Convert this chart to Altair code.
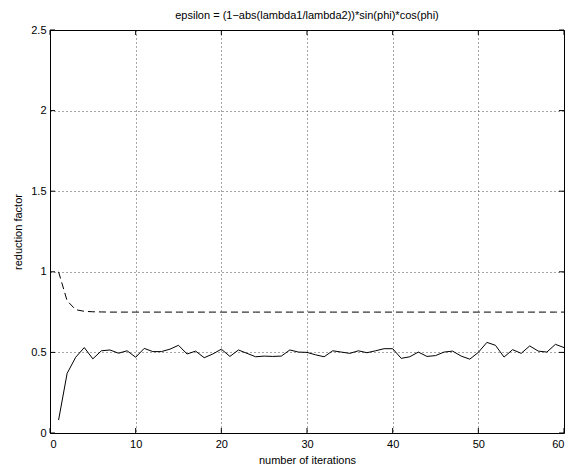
import altair as alt
import pandas as pd

iterations = list(range(1, 61))
solid_values = [0.08, 0.37, 0.47, 0.53, 0.46, 0.51, 0.515, 0.495, 0.51, 0.47,
                0.525, 0.505, 0.505, 0.52, 0.544, 0.49, 0.508, 0.467, 0.49, 0.52,
                0.475, 0.515, 0.494, 0.473, 0.477, 0.475, 0.477, 0.515, 0.502, 0.5,
                0.485, 0.473, 0.51, 0.502, 0.494, 0.51, 0.498, 0.51, 0.523, 0.523,
                0.463, 0.473, 0.502, 0.475, 0.48, 0.502, 0.508, 0.477, 0.458, 0.5,
                0.562, 0.544, 0.471, 0.517, 0.494, 0.54, 0.508, 0.502, 0.55, 0.53]
dashed_values = [1.0, 0.82, 0.765, 0.755, 0.752, 0.751, 0.75, 0.75, 0.75, 0.75,
                 0.75, 0.75, 0.75, 0.75, 0.75, 0.75, 0.75, 0.75, 0.75, 0.75,
                 0.75, 0.75, 0.75, 0.75, 0.75, 0.75, 0.75, 0.75, 0.75, 0.75,
                 0.75, 0.75, 0.75, 0.75, 0.75, 0.75, 0.75, 0.75, 0.75, 0.75,
                 0.75, 0.75, 0.75, 0.75, 0.75, 0.75, 0.75, 0.75, 0.75, 0.75,
                 0.75, 0.75, 0.75, 0.75, 0.75, 0.75, 0.75, 0.75, 0.75, 0.75]
x_ticks = [0, 10, 20, 30, 40, 50, 60]
y_ticks = [0, 0.5, 1, 1.5, 2, 2.5]

W, H = 514, 403
FONT = "Liberation Sans"

df = pd.DataFrame({"it": iterations, "solid": solid_values, "dashed": dashed_values})
xt = pd.DataFrame({"t": x_ticks})
yt = pd.DataFrame({"t": y_ticks})

xscale = alt.Scale(domain=[0, 60], nice=False, zero=False)
yscale = alt.Scale(domain=[0, 2.5], nice=False, zero=False)

xaxis = alt.Axis(values=x_ticks, title="number of iterations", grid=True,
                 gridDash=[1, 3], gridColor="#000000", gridOpacity=0.7,
                 tickSize=0, labelPadding=5, domain=False,
                 titleY=27, titleBaseline="middle", titleFontWeight="normal")
yaxis = alt.Axis(values=y_ticks, title="reduction factor", grid=True,
                 gridDash=[1, 3], gridColor="#000000", gridOpacity=0.7,
                 tickSize=0, labelPadding=4, domain=False,
                 labelExpr="datum.value == 0 ? '0' : format(datum.value, '.2~f')",
                 titleX=-27, titleY=H / 2, titleAngle=-90, titleBaseline="bottom",
                 titleFontWeight="normal")

base = alt.Chart(df)
solid_line = base.mark_line(color="black", strokeWidth=1).encode(
    x=alt.X("it:Q", scale=xscale, axis=xaxis),
    y=alt.Y("solid:Q", scale=yscale, axis=yaxis),
)
dashed_line = base.mark_line(color="black", strokeWidth=1, strokeDash=[7, 4]).encode(
    x=alt.X("it:Q", scale=xscale),
    y=alt.Y("dashed:Q", scale=yscale),
)

tick_bottom = alt.Chart(xt).mark_rule(color="black").encode(
    x=alt.X("t:Q", scale=xscale), y=alt.value(H), y2=alt.value(H - 5))
tick_top = alt.Chart(xt).mark_rule(color="black").encode(
    x=alt.X("t:Q", scale=xscale), y=alt.value(0), y2=alt.value(5))
tick_left = alt.Chart(yt).mark_rule(color="black").encode(
    y=alt.Y("t:Q", scale=yscale), x=alt.value(0), x2=alt.value(5))
tick_right = alt.Chart(yt).mark_rule(color="black").encode(
    y=alt.Y("t:Q", scale=yscale), x=alt.value(W), x2=alt.value(W - 5))

chart = alt.layer(dashed_line, solid_line, tick_bottom, tick_top, tick_left, tick_right).properties(
    width=W, height=H,
    title=alt.TitleParams("epsilon = (1\u2212abs(lambda1/lambda2))*sin(phi)*cos(phi)",
                          font=FONT, fontSize=11, fontWeight="normal", color="black",
                          anchor="middle", offset=3),
    autosize=alt.AutoSizeParams(type="none"),
    padding={"left": 50, "top": 30, "right": 10, "bottom": 41},
    background="white",
).configure_view(stroke="black", strokeWidth=1).configure_axis(
    labelFont=FONT, labelFontSize=11, labelColor="black",
    titleFont=FONT, titleFontSize=11, titleColor="black",
)

chart.save("out.html", embed_options={"renderer": "svg", "actions": False})
